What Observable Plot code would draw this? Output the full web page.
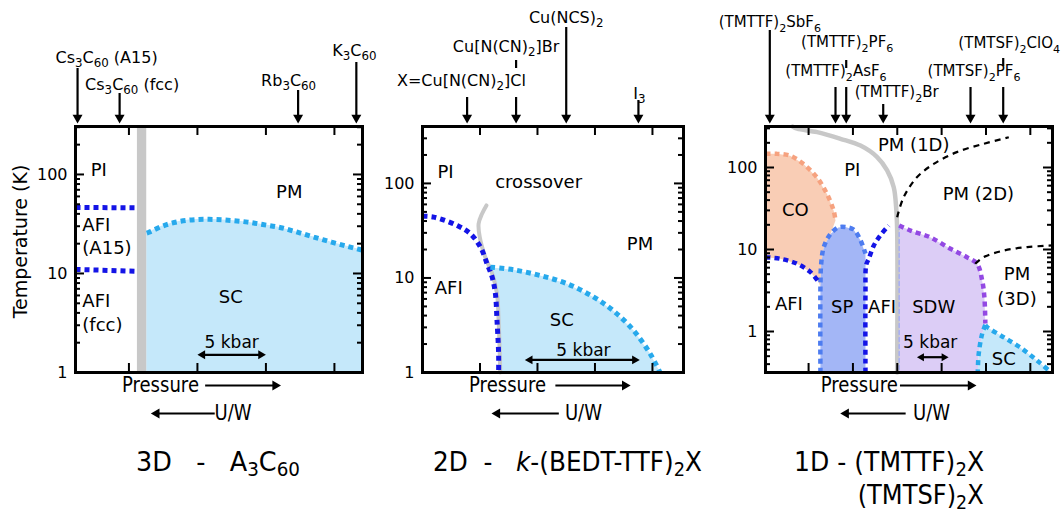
<!DOCTYPE html>
<html>
<head>
<meta charset="utf-8">
<script src="https://cdn.jsdelivr.net/npm/d3@7"></script>
<script src="https://cdn.jsdelivr.net/npm/@observablehq/plot@0.6"></script>
<style>
  html, body { margin: 0; padding: 0; background: #fff; }
  #figure { position: relative; width: 1063px; height: 512px; overflow: hidden; }
  .panel { position: absolute; top: 0; }
  .panel svg { overflow: visible; background: transparent; }
  .title { position: absolute; white-space: nowrap; font-family: "DejaVu Sans", sans-serif; font-size: 26px; line-height: 1; color: #000; }
  .title.l { transform-origin: left center; }
  .title.r { transform-origin: right center; }
  .title sub { font-size: 72%; vertical-align: -0.28em; line-height: 0; }
</style>
</head>
<body>
<div id="figure"></div>
<script>
// ---------- 3D: A3C60 fullerides (x: pressure in kbar, y: temperature in K) ----------
const fullerideNames = ["Cs_{3}C_{60} (A15)", "Cs_{3}C_{60} (fcc)", "Rb_{3}C_{60}", "K_{3}C_{60}"];
const fullerideP = [-3.75, -0.68, 12.35, 16.6];
const fullerideMottP = [0.62, 1.3];
const fullerideAfiA15P = [-3.9, 0.62];
const fullerideAfiA15T = [46.5, 46];
const fullerideAfiFccP = [-3.9, 0.62];
const fullerideAfiFccT = [11, 10.5];
const fullerideScP = [1.3, 1.46, 2.56, 3.78, 5.0, 6.22, 7.44, 8.67, 9.88, 11.1, 12.3, 13.5, 14.8, 16.0, 17.05];
const fullerideScT = [25.6, 26.1, 30.5, 33.7, 35.1, 35.1, 34.3, 33.0, 31.0, 29.0, 26.1, 23.3, 20.7, 18.7, 17.2];

// ---------- 2D: kappa-(BEDT-TTF)2X ----------
const bedtNames = ["X=Cu[N(CN)_{2}]Cl", "Cu[N(CN)_{2}]Br", "Cu(NCS)_{2}", "I_{3}"];
const bedtP = [1.94, 4.07, 6.25, 9.39];
const bedtAfiP = [0, 0.49, 1.51, 2.08, 2.52, 2.81, 3.03, 3.17, 3.24, 3.31, 3.31];
const bedtAfiT = [45, 44, 35.9, 29.4, 21.2, 14.1, 10.2, 6.8, 3.55, 1.58, 1];
const bedtCrossP = [2.78, 2.59, 2.44, 2.49, 2.73, 3.03, 3.24, 3.31, 3.38];
const bedtCrossT = [58.5, 47.8, 37.5, 27, 16.6, 11.1, 6.8, 3.55, 1];
const bedtScP = [2.95, 3.96, 5.12, 6.28, 7.43, 8.30, 9.17, 9.90, 10.33];
const bedtScT = [13.0, 12.2, 10.6, 8.7, 6.3, 4.5, 2.8, 1.58, 1];

// ---------- 1D: (TMTTF)2X / (TMTSF)2X ----------
const chainNames = ["(TMTTF)_{2}SbF_{6}", "(TMTTF)_{2}PF_{6}", "(TMTTF)_{2}AsF_{6}", "(TMTTF)_{2}Br", "(TMTSF)_{2}PF_{6}", "(TMTSF)_{2}ClO_{4}"];
const chainP = [0.88, 12.94, 11.25, 18.78, 32.56, 37.72];
const chainCrossP = [4.5, 5.2, 8.36, 12.03, 15.19, 17.82, 19.4, 20.44, 20.82, 20.98, 20.98];
const chainCrossT = [316, 297, 270, 224, 185, 134, 92, 57.5, 32.8, 17.1, 0.316];
const chainCoP = [0.2, 2.0, 4.1, 6.2, 8.3, 9.9, 10.95, 11.25];
const chainCoT = [147, 147, 139, 110, 76, 47.6, 29.9, 22.6];
const chainAfiLowP = [0.2, 2.57, 5.2, 7.3, 8.6];
const chainAfiLowT = [8.05, 7.7, 6.7, 5.3, 4.0];
const chainSpP = [8.87, 8.87, 8.99, 9.4, 10.46, 11.7, 12.8, 14.1, 15.2, 15.98, 15.98];
const chainSpT = [0.316, 3.47, 6.7, 10.7, 15.5, 18.6, 18.8, 17.5, 12.9, 8.9, 0.316];
const chainAfiHighP = [15.98, 15.98, 16.1, 16.5, 17.3, 18.3, 19.65];
const chainAfiHighT = [0.316, 3, 6.5, 7.7, 11.2, 14.8, 19.6];
const chainSdwP = [21.3, 23.1, 26.2, 29.4, 32.0, 33.6, 34.4, 34.75, 34.9];
const chainSdwT = [19.6, 17, 14.1, 10.2, 8.05, 6.7, 4.18, 2.62, 1.25];
const chainScEdgeP = [34.9, 34.4, 33.85, 33.7];
const chainScEdgeT = [1.2, 0.94, 0.53, 0.316];
const chainScP = [34.9, 35.2, 37.8, 40.4, 43.1, 45.3];
const chainScT = [1.2, 1.13, 0.85, 0.64, 0.44, 0.316];
const chain2dP = [20.98, 22.0, 24.1, 26.75, 30.4, 34.6, 38.6];
const chain2dT = [24.8, 43.3, 76, 110.5, 154, 194, 234];
const chain3dP = [33.3, 34.6, 37.8, 41.5, 45.5];
const chain3dT = [6.7, 8.05, 9.7, 10.7, 11.2];

// ---------- styling ----------
const SC_FILL = "#c5e8fa", SC_LINE = "#27a9ec";
const AFI_LINE = "#1414e6", GREY = "#c8c8c8";
const CO_FILL = "#f9cdb5", CO_LINE = "#f6a27f";
const SP_FILL = "#a3b6f6", SP_LINE = "#4d7cf0";
const SDW_FILL = "#dccdf6", SDW_LINE = "#9349e3";
const LABEL_FONT = "DejaVu Sans, sans-serif";
const NARROW_TEXTS = new Set(["Pressure", "U/W"]);   // drawn horizontally condensed

// every panel shares the same frame top/bottom
const TOP = 126, BOTTOM = 372, SVG_H = 430, FH = BOTTOM - TOP;
const R = 3.7;                       // arrow-head radius
const apex = r => 1.555 * r;         // centre-to-tip distance of d3's triangle symbol

const pts = (P, T) => P.map((p, i) => ({p, t: T[i]}));
// temperatures that sit a given number of pixels above / below the log frame
const rise = (dom, px) => dom[1] * Math.pow(dom[1] / dom[0], px / FH);
const sink = (dom, px) => dom[0] / Math.pow(dom[1] / dom[0], px / FH);

function frameMarks(dom, xTicks, yLabels, fw) {
  const majors = [], minors = [];
  for (let e = -1; e <= 3; e++) for (let m = 1; m < 10; m++) {
    const v = m * Math.pow(10, e);
    if (v < dom[0] * 0.999 || v > dom[1] * 1.001) continue;
    (m === 1 ? majors : minors).push(v);
  }
  return [
    Plot.tickY(majors, {y: d => d, insetRight: fw - 9, strokeWidth: 2}),
    Plot.tickY(minors, {y: d => d, insetRight: fw - 5, strokeWidth: 2}),
    Plot.tickY(majors, {y: d => d, insetLeft: fw - 9, strokeWidth: 2}),
    Plot.tickY(minors, {y: d => d, insetLeft: fw - 5, strokeWidth: 2}),
    Plot.tickX(xTicks, {x: d => d, insetBottom: FH - 9, strokeWidth: 2}),
    Plot.tickX(xTicks, {x: d => d, insetTop: FH - 9, strokeWidth: 2}),
    Plot.frame({stroke: "black", strokeWidth: 3}),
    Plot.text(yLabels, {y: d => d, text: d => String(d), frameAnchor: "left", textAnchor: "end", dx: -8, fontSize: 16})
  ];
}

// compound markers: vertical arrows down onto the frame with a label above;
// layout = [label rise, arrow tail rise, label shift (px), optional short stub above a crossing label]
function compoundMarks(names, P, layout, dom, pxPerUnit, fontSize = 16) {
  const rows = names.map((name, i) => ({
    name, p: P[i],
    px: P[i] + layout[i][2] / pxPerUnit,
    text: rise(dom, layout[i][0]),
    tail: rise(dom, layout[i][1]),
    tip: rise(dom, 3)
  }));
  const stubs = names.map((name, i) => layout[i][3] ? {p: P[i], y1: rise(dom, layout[i][3][0]), y2: rise(dom, layout[i][3][1])} : null).filter(d => d);
  return [
    Plot.ruleX(rows, {x: "p", y1: "tail", y2: "tip", strokeWidth: 2.2, insetBottom: apex(R)}),
    Plot.ruleX(stubs, {x: "p", y1: "y1", y2: "y2", strokeWidth: 2.2}),
    Plot.dot(rows, {x: "p", y: "tip", symbol: "triangle", r: R, rotate: 180, fill: "black", dy: -apex(R)}),
    Plot.text(rows, {x: "px", y: "text", text: "name", fontSize, fill: "black"})
  ];
}

function hArrow(row, {r = R, left = false, right = true, sw = 2.2} = {}) {
  const a = apex(r), rows = [row];
  const marks = [Plot.ruleY(rows, {y: "y", x1: "x1", x2: "x2", strokeWidth: sw, insetLeft: left ? a : 0, insetRight: right ? a : 0})];
  if (right) marks.push(Plot.dot(rows, {x: "x2", y: "y", symbol: "triangle", r, rotate: 90, fill: "black", dx: -a}));
  if (left) marks.push(Plot.dot(rows, {x: "x1", y: "y", symbol: "triangle", r, rotate: -90, fill: "black", dx: a}));
  return marks;
}

// "Pressure ->" and "<- U/W" under each frame
function pressureMarks(dom, {pText, p1, p2, uText, u1, u2}) {
  const y1 = sink(dom, 13), y2 = sink(dom, 41);
  return [
    Plot.text(["Pressure"], {x: pText, y: y1, fontSize: 21}),
    ...hArrow({x1: p1, x2: p2, y: y1}),
    Plot.text(["U/W"], {x: uText, y: y2, fontSize: 21}),
    ...hArrow({x1: u1, x2: u2, y: y2}, {left: true, right: false})
  ];
}

const dashed = (data, stroke, extra = {}) =>
  Plot.line(data, {x: "p", y: "t", stroke, strokeWidth: 5, strokeDasharray: "5,4", strokeLinecap: "butt", strokeLinejoin: "miter", curve: "catmull-rom", ...extra});
const blackDashed = data =>
  Plot.line(data, {x: "p", y: "t", stroke: "black", strokeWidth: 2.2, strokeDasharray: "6,5", strokeLinecap: "butt", curve: "catmull-rom"});
const region = (data, fill) => Plot.line(data, {x: "p", y: "t", fill, stroke: "none", curve: "linear"});
const label = (rows, opts = {}) => Plot.text(rows, {x: "p", y: "t", text: "s", fontSize: 18, fill: "black", ...opts});
const kbarLabel = row => Plot.text([row], {x: "p", y: "t", text: () => "5 kbar", fontSize: 17});

const figure = document.getElementById("figure");

// "_{..}" in a label becomes a lowered, smaller tspan
function applySubscripts(svg) {
  for (const t of svg.querySelectorAll("text")) {
    const s = t.textContent;
    if (!s.includes("_{")) continue;
    const fs = parseFloat(getComputedStyle(t).fontSize) || 15;
    while (t.firstChild) t.removeChild(t.firstChild);
    let shifted = false;
    for (const part of s.split(/(_\{[^}]*\})/)) {
      if (!part) continue;
      const span = document.createElementNS("http://www.w3.org/2000/svg", "tspan");
      if (part.startsWith("_{")) {
        span.textContent = part.slice(2, -1);
        span.setAttribute("font-size", fs * 0.74);
        if (!shifted) span.setAttribute("dy", fs * 0.3);
        shifted = true;
      } else {
        span.textContent = part;
        if (shifted) span.setAttribute("dy", -fs * 0.3);
        shifted = false;
      }
      t.appendChild(span);
    }
  }
}

// squeeze the axis captions horizontally about their own anchor point
function condense(svg, k) {
  for (const t of svg.querySelectorAll("text")) {
    if (!NARROW_TEXTS.has(t.textContent)) continue;
    const tr = t.getAttribute("transform") || "";
    t.setAttribute("transform", `${tr} scale(${k},1)`);
  }
}

function renderPanel({left, width, marginLeft, marginRight, xDomain, yDomain, marks}) {
  const svg = Plot.plot({
    width, height: SVG_H, marginLeft, marginRight, marginTop: TOP, marginBottom: SVG_H - BOTTOM,
    x: {domain: xDomain, axis: null},
    y: {type: "log", domain: yDomain, axis: null},
    style: {fontFamily: LABEL_FONT, fontSize: "16px", color: "black", background: "transparent", overflow: "visible"},
    marks
  });
  const holder = document.createElement("div");
  holder.className = "panel";
  holder.style.left = left + "px";
  holder.style.width = width + "px";
  holder.appendChild(svg);
  figure.appendChild(holder);
  applySubscripts(svg);
  condense(svg, 0.86);
}

// ---------- panel 1 ----------
{
  const xDomain = [-3.9, 17.05], yDomain = [1, 305];
  const width = 370, marginLeft = 75, marginRight = 8;
  const fw = width - marginLeft - marginRight, ppu = fw / (xDomain[1] - xDomain[0]);
  renderPanel({
    left: 0, width, marginLeft, marginRight, xDomain, yDomain,
    marks: [
      Plot.areaY(pts(fullerideScP, fullerideScT), {x: "p", y1: yDomain[0], y2: "t", fill: SC_FILL, curve: "catmull-rom"}),
      Plot.areaY(fullerideMottP, {x: d => d, y1: yDomain[0], y2: yDomain[1], fill: GREY}),
      dashed(pts(fullerideAfiA15P, fullerideAfiA15T), AFI_LINE),
      dashed(pts(fullerideAfiFccP, fullerideAfiFccT), AFI_LINE),
      dashed(pts(fullerideScP, fullerideScT), SC_LINE),
      label([{p: -2.2, t: 110, s: "PI"}, {p: 11.7, t: 66, s: "PM"}, {p: 7.44, t: 5.77, s: "SC"}]),
      label([{p: -3.4, t: 30.5, s: "AFI"}, {p: -3.4, t: 17.8, s: "(A15)"}, {p: -3.4, t: 5.3, s: "AFI"}, {p: -3.4, t: 2.98, s: "(fcc)"}], {textAnchor: "start"}),
      kbarLabel({p: 7.5, t: 2.02}),
      ...hArrow({x1: 5, x2: 10, y: 1.51}, {left: true, right: true, r: 3.3}),
      Plot.text(["Temperature (K)"], {frameAnchor: "left", textAnchor: "middle", rotate: -90, dx: -55, dy: -8, fontSize: 19}),
      ...frameMarks(yDomain, [0, 5, 10, 15], [1, 10, 100], fw),
      ...compoundMarks(fullerideNames, fullerideP, [[69, 58, 29], [42, 33, 12.5], [46, 36, -9.5], [76, 64, -2]], yDomain, ppu),
      ...pressureMarks(yDomain, {pText: 2.3, p1: 5.6, p2: 11.1, uText: 7.6, u1: 1.6, u2: 6.3})
    ]
  });
}

// ---------- panel 2 ----------
{
  const xDomain = [0, 11.35], yDomain = [1, 400];
  const width = 330, marginLeft = 52, marginRight = 17;
  const fw = width - marginLeft - marginRight, ppu = fw / (xDomain[1] - xDomain[0]);
  const crossLow = pts(bedtCrossP, bedtCrossT).filter(d => d.t < 12).reverse();
  renderPanel({
    left: 370, width, marginLeft, marginRight, xDomain, yDomain,
    marks: [
      region([...pts(bedtScP, bedtScT), ...crossLow], SC_FILL),
      Plot.line(pts(bedtCrossP, bedtCrossT), {x: "p", y: "t", stroke: GREY, strokeWidth: 4, curve: "catmull-rom"}),
      dashed(pts(bedtAfiP, bedtAfiT), AFI_LINE),
      dashed(pts(bedtScP, bedtScT), SC_LINE),
      label([{p: 1.0, t: 132, s: "PI"}, {p: 5.05, t: 103, s: "crossover"}, {p: 9.46, t: 23, s: "PM"}, {p: 1.14, t: 7.7, s: "AFI"}, {p: 6.06, t: 3.55, s: "SC"}]),
      kbarLabel({p: 7.0, t: 1.71}),
      ...hArrow({x1: 4.45, x2: 9.45, y: 1.36}, {left: true, right: true, r: 3.3}),
      ...frameMarks(yDomain, [2.5, 5, 7.5, 10], [1, 10, 100], fw),
      ...compoundMarks(bedtNames, bedtP, [[46, 29, -5.7], [80, 29, -10, [66, 58]], [109, 99, 0], [33, 26, 1]], yDomain, ppu),
      ...pressureMarks(yDomain, {pText: 3.7, p1: 5.8, p2: 9.05, uText: 7.0, u1: 3.0, u2: 5.95})
    ]
  });
}

// ---------- panel 3 ----------
{
  const xDomain = [0.2, 45.5], yDomain = [Math.pow(10, -0.5), Math.pow(10, 2.5)];
  const width = 363, marginLeft = 65, marginRight = 11;
  const fw = width - marginLeft - marginRight, ppu = fw / (xDomain[1] - xDomain[0]);
  const sp = pts(chainSpP, chainSpT);
  const coPoly = [...pts(chainCoP, chainCoT), ...sp.slice(1, 5).reverse(), ...pts(chainAfiLowP, chainAfiLowT).reverse()];
  const sdwPoly = [...pts(chainSdwP, chainSdwT), ...pts(chainScEdgeP, chainScEdgeT), {p: chainSdwP[0], t: yDomain[0]}];
  const scPoly = [...pts(chainScEdgeP, chainScEdgeT).reverse(), ...pts(chainScP, chainScT).slice(1)];
  renderPanel({
    left: 700, width, marginLeft, marginRight, xDomain, yDomain,
    marks: [
      region(coPoly, CO_FILL),
      region(sp, SP_FILL),
      region(sdwPoly, SDW_FILL),
      region(scPoly, SC_FILL),
      Plot.line(pts(chainCrossP, chainCrossT), {x: "p", y: "t", stroke: GREY, strokeWidth: 4.5, curve: "catmull-rom"}),
      Plot.line([{p: chainSdwP[0], t: chainSdwT[0]}, {p: chainSdwP[0], t: yDomain[0]}], {x: "p", y: "t", stroke: "#a7aef4", strokeWidth: 1.5, strokeDasharray: "4,3"}),
      dashed(pts(chainCoP, chainCoT), CO_LINE, {strokeWidth: 4.5}),
      dashed(sp.slice(0, -1), SP_LINE, {strokeWidth: 4.5}),
      dashed(pts(chainAfiLowP, chainAfiLowT), AFI_LINE, {strokeWidth: 4.5}),
      dashed(pts(chainAfiHighP, chainAfiHighT), AFI_LINE, {strokeWidth: 4.5}),
      dashed(pts(chainSdwP, chainSdwT), SDW_LINE, {strokeWidth: 4.5}),
      dashed(pts(chainScEdgeP, chainScEdgeT), SC_LINE, {strokeWidth: 4.5}),
      dashed(pts(chainScP, chainScT), SC_LINE, {strokeWidth: 4.5}),
      blackDashed(pts(chain2dP, chain2dT)),
      blackDashed(pts(chain3dP, chain3dT)),
      label([
        {p: 23.6, t: 185, s: "PM (1D)"}, {p: 13.9, t: 92, s: "PI"}, {p: 33.8, t: 47.6, s: "PM (2D)"},
        {p: 4.9, t: 29.9, s: "CO"}, {p: 3.9, t: 2.18, s: "AFI"}, {p: 12.3, t: 1.98, s: "SP"},
        {p: 18.6, t: 1.98, s: "AFI"}, {p: 26.75, t: 1.98, s: "SDW"}, {p: 39.9, t: 5.06, s: "PM"},
        {p: 39.9, t: 2.5, s: "(3D)"}, {p: 37.8, t: 0.46, s: "SC"}
      ]),
      kbarLabel({p: 26.2, t: 0.74}),
      ...hArrow({x1: 24.1, x2: 29.1, y: 0.486}, {left: true, right: true, r: 3}),
      ...frameMarks(yDomain, [7, 14, 21, 28, 35, 42], [1, 10, 100], fw),
      ...compoundMarks(chainNames, chainP, [[104, 96, 0], [84, 39, 1, [66, 58]], [55, 39, 0.5], [34, 22, 13.5], [55, 39, 3.5], [83, 39, 6, [68, 60]]], yDomain, ppu, 15),
      ...pressureMarks(yDomain, {pText: 15.0, p1: 21.5, p2: 33.5, uText: 26.4, u1: 12.0, u2: 22.4})
    ]
  });
}

// ---------- titles (each squeezed to its own width) ----------
const titles = [
  {left: 136, top: 449, width: 164, html: "3D&nbsp;&nbsp;&nbsp;-&nbsp;&nbsp;&nbsp;A<sub>3</sub>C<sub>60</sub>"},
  {left: 433, top: 449, width: 269, html: "2D&nbsp;&nbsp;-&nbsp;&nbsp;&nbsp;<i>k</i>-(BEDT-TTF)<sub>2</sub>X"},
  {right: 1063 - 984, top: 449, width: 190, html: "1D - (TMTTF)<sub>2</sub>X"},
  {right: 1063 - 984, top: 482, width: 126, html: "(TMTSF)<sub>2</sub>X"}
];
for (const t of titles) {
  const div = document.createElement("div");
  div.className = "title " + (t.left != null ? "l" : "r");
  if (t.left != null) div.style.left = t.left + "px";
  if (t.right != null) div.style.right = t.right + "px";
  div.style.top = t.top + "px";
  div.innerHTML = t.html;
  figure.appendChild(div);
  const natural = div.getBoundingClientRect().width;
  div.style.transform = `scaleX(${t.width / natural})`;
}
</script>
</body>
</html>
